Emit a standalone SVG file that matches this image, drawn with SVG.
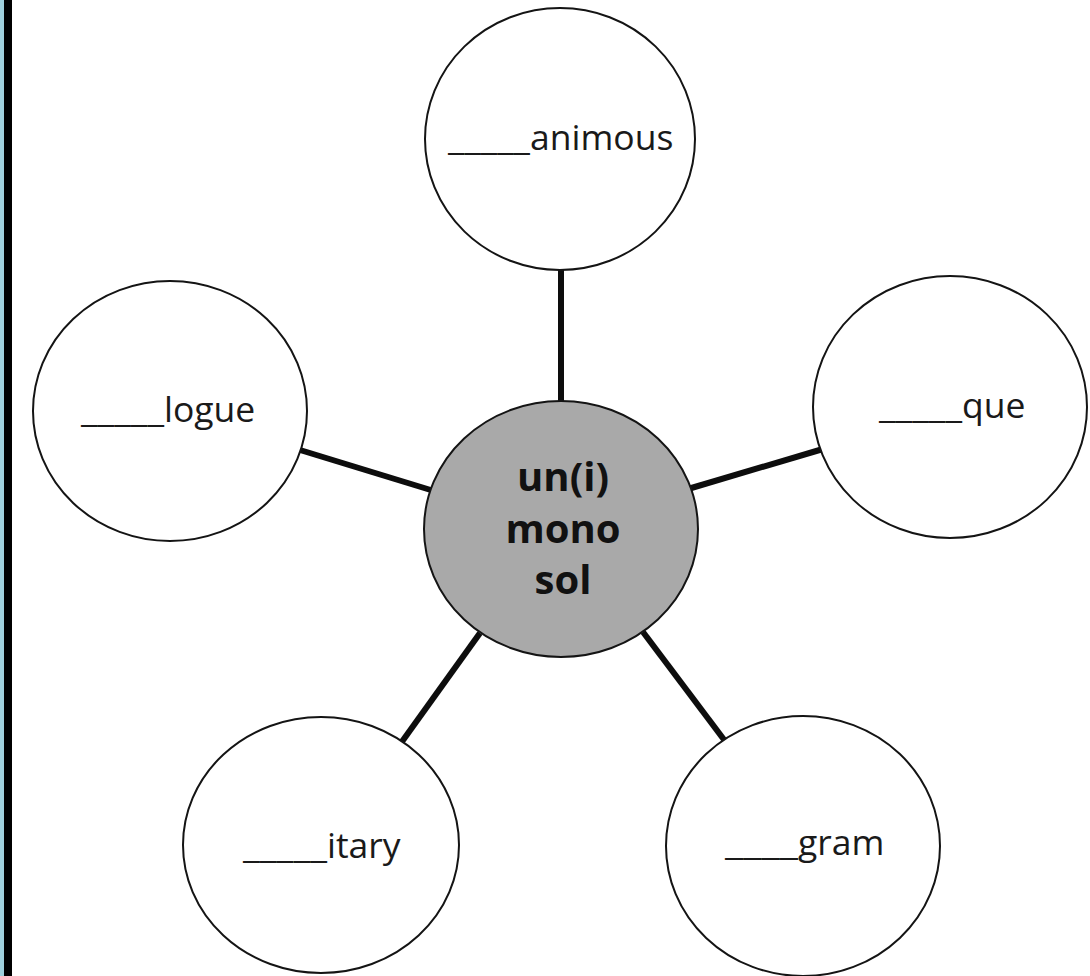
<svg xmlns="http://www.w3.org/2000/svg" width="1090" height="976" viewBox="0 0 1090 976">
<style>
.leaf{fill:#fff;stroke:#141414;stroke-width:2}
.hub{fill:#a9a9a9;stroke:#141414;stroke-width:2}
.lbl{font-family:"Open Sans","Noto Sans",sans-serif;font-size:35.5px;fill:#1a1a1a}
.hubt{font-family:"Open Sans","Noto Sans",sans-serif;font-size:40px;font-weight:bold;fill:#111;text-anchor:middle}
.conn line{stroke:#0d0d0d;stroke-width:6;stroke-linecap:butt}
</style>
<rect x="0" y="0" width="1090" height="976" fill="#fff"/>
<rect x="0" y="0" width="4" height="976" fill="#9fd0dc"/>
<rect x="4" y="0" width="8" height="976" fill="#000"/>
<g id="connectors" class="conn">
<line x1="561" y1="266" x2="561" y2="405"/>
<line x1="300" y1="450" x2="434" y2="491"/>
<line x1="688" y1="489" x2="823" y2="449"/>
<line x1="401" y1="743" x2="480" y2="633"/>
<line x1="643" y1="632" x2="725" y2="741"/>
</g>
<g id="node-center">
<ellipse class="hub" cx="561" cy="529" rx="137" ry="128"/>
<text class="hubt" x="563" y="491">un(i)</text>
<text class="hubt" x="563" y="543">mono</text>
<text class="hubt" x="563" y="594">sol</text>
</g>
<g id="node-animous">
<ellipse class="leaf" cx="560" cy="139" rx="135" ry="131"/>
<text class="lbl" x="448" y="150"><tspan textLength="82" lengthAdjust="spacingAndGlyphs">_____</tspan>animous</text>
</g>
<g id="node-logue">
<ellipse class="leaf" cx="170" cy="411" rx="137" ry="130"/>
<text class="lbl" x="81" y="422"><tspan textLength="83" lengthAdjust="spacingAndGlyphs">_____</tspan>logue</text>
</g>
<g id="node-que">
<ellipse class="leaf" cx="950" cy="407" rx="137" ry="131"/>
<text class="lbl" x="879" y="418"><tspan textLength="83" lengthAdjust="spacingAndGlyphs">_____</tspan>que</text>
</g>
<g id="node-itary">
<ellipse class="leaf" cx="321" cy="845" rx="138" ry="128"/>
<text class="lbl" x="243" y="858"><tspan textLength="84" lengthAdjust="spacingAndGlyphs">_____</tspan>itary</text>
</g>
<g id="node-gram">
<ellipse class="leaf" cx="803" cy="846" rx="137" ry="130"/>
<text class="lbl" x="725" y="855"><tspan textLength="73" lengthAdjust="spacingAndGlyphs">____</tspan>gram</text>
</g>
</svg>
